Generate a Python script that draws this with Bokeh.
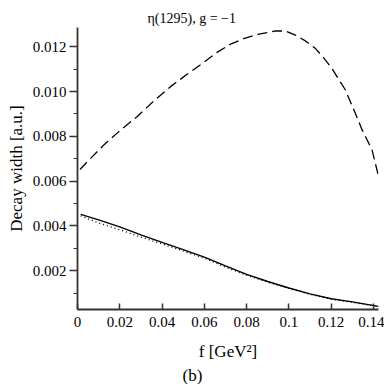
from bokeh.plotting import figure
from bokeh.models import FixedTicker, Title, Range1d
from bokeh.embed import file_html
from bokeh.resources import INLINE

# Data
dash_f = [0.0012, 0.005, 0.0126, 0.02, 0.0283, 0.036, 0.044, 0.052, 0.0597, 0.066,
          0.0724, 0.079, 0.0858, 0.0936, 0.0985, 0.1031, 0.108, 0.1125, 0.1165, 0.1203,
          0.1267, 0.1314, 0.1346, 0.1393, 0.1424]
dash_w = [0.00652, 0.00690, 0.00763, 0.00825, 0.00889, 0.00957, 0.01022, 0.01078, 0.01130, 0.01175,
          0.01212, 0.01238, 0.01256, 0.01271, 0.01270, 0.01252, 0.01225, 0.01193, 0.01150, 0.01104,
          0.01008, 0.00904, 0.00830, 0.00741, 0.00622]

solid_f = [0.0015, 0.01, 0.02, 0.03, 0.04, 0.05, 0.06, 0.07, 0.08, 0.09, 0.10, 0.11, 0.12, 0.13, 0.1424]
solid_w = [0.00452, 0.00427, 0.00396, 0.00360, 0.00327, 0.00294, 0.00261, 0.00222, 0.00184,
           0.00152, 0.00123, 0.00097, 0.00075, 0.00061, 0.00041]
dot_w = [0.00445, 0.00413, 0.00383, 0.00350, 0.00320, 0.00288, 0.00256, 0.00216, 0.00180,
         0.00149, 0.00121, 0.00095, 0.00073, 0.00059, 0.00040]

x_ticks = [0, 0.02, 0.04, 0.06, 0.08, 0.1, 0.12, 0.14]
x_labels = ["0", "0.02", "0.04", "0.06", "0.08", "0.1", "0.12", "0.14"]
y_ticks = [0.002, 0.004, 0.006, 0.008, 0.010, 0.012]
y_labels = ["0.002", "0.004", "0.006", "0.008", "0.010", "0.012"]
y_minor = [0.001, 0.003, 0.005, 0.007, 0.009, 0.011]

FONT = "Liberation Serif"

p = figure(width=384, height=384, output_backend="svg", toolbar_location=None,
           x_range=Range1d(0, 0.1424), y_range=Range1d(0.00027, 0.01286),
           min_border_left=77, min_border_right=6, min_border_top=27, min_border_bottom=73)
p.outline_line_color = None
p.grid.visible = False
p.background_fill_color = "white"
p.border_fill_color = "white"

p.line(dash_f, dash_w, line_color="black", line_width=1.3, line_dash="10 5")
p.line(solid_f, solid_w, line_color="black", line_width=1.4)
p.line(solid_f, dot_w, line_color="black", line_width=1.3, line_dash="1 3")

xa = p.xaxis[0]
xa.ticker = FixedTicker(ticks=x_ticks, minor_ticks=[])
xa.major_label_overrides = {t: l for t, l in zip(x_ticks, x_labels)}
xa.major_tick_in = 6
xa.major_tick_out = 0
xa.minor_tick_in = 0
xa.minor_tick_out = 0
xa.major_label_standoff = 7
xa.axis_line_width = 1.8
xa.axis_line_color = "#333333"
xa.major_tick_line_color = "#333333"
xa.major_tick_line_width = 1.5
xa.major_label_text_font = FONT
xa.major_label_text_font_size = "15px"
xa.major_label_text_color = "black"
xa.axis_label = "f [GeV²]"
xa.axis_label_text_font = FONT
xa.axis_label_text_font_size = "17px"
xa.axis_label_text_font_style = "normal"
xa.axis_label_text_color = "black"
xa.axis_label_standoff = 12

ya = p.yaxis[0]
ya.ticker = FixedTicker(ticks=y_ticks, minor_ticks=y_minor)
ya.major_label_overrides = {t: l for t, l in zip(y_ticks, y_labels)}
ya.major_tick_in = 0
ya.major_tick_out = 8
ya.minor_tick_in = 0
ya.minor_tick_out = 4
ya.major_label_standoff = 3
ya.axis_line_width = 1.8
ya.axis_line_color = "#333333"
ya.major_tick_line_color = "#333333"
ya.minor_tick_line_color = "#333333"
ya.major_tick_line_width = 1.5
ya.minor_tick_line_width = 1.2
ya.major_label_text_font = FONT
ya.major_label_text_font_size = "15px"
ya.major_label_text_color = "black"
ya.axis_label = "Decay width [a.u.]"
ya.axis_label_text_font = FONT
ya.axis_label_text_font_size = "17px"
ya.axis_label_text_font_style = "normal"
ya.axis_label_text_color = "black"
ya.axis_label_standoff = 4

# Title: η(1295), g = −1
p.title.text = "η(1295), g = −1"
p.title.align = "left"
p.title.offset = 70
p.title.text_font = FONT
p.title.text_font_size = "14px"
p.title.text_font_style = "normal"
p.title.text_color = "black"
p.title.standoff = 4

# Panel label
p.add_layout(Title(text="(b)", align="left", offset=105, text_font=FONT,
                   text_font_size="17px", text_font_style="normal",
                   text_color="black", standoff=0), "below")

open("out.html", "w").write(file_html(p, INLINE))
